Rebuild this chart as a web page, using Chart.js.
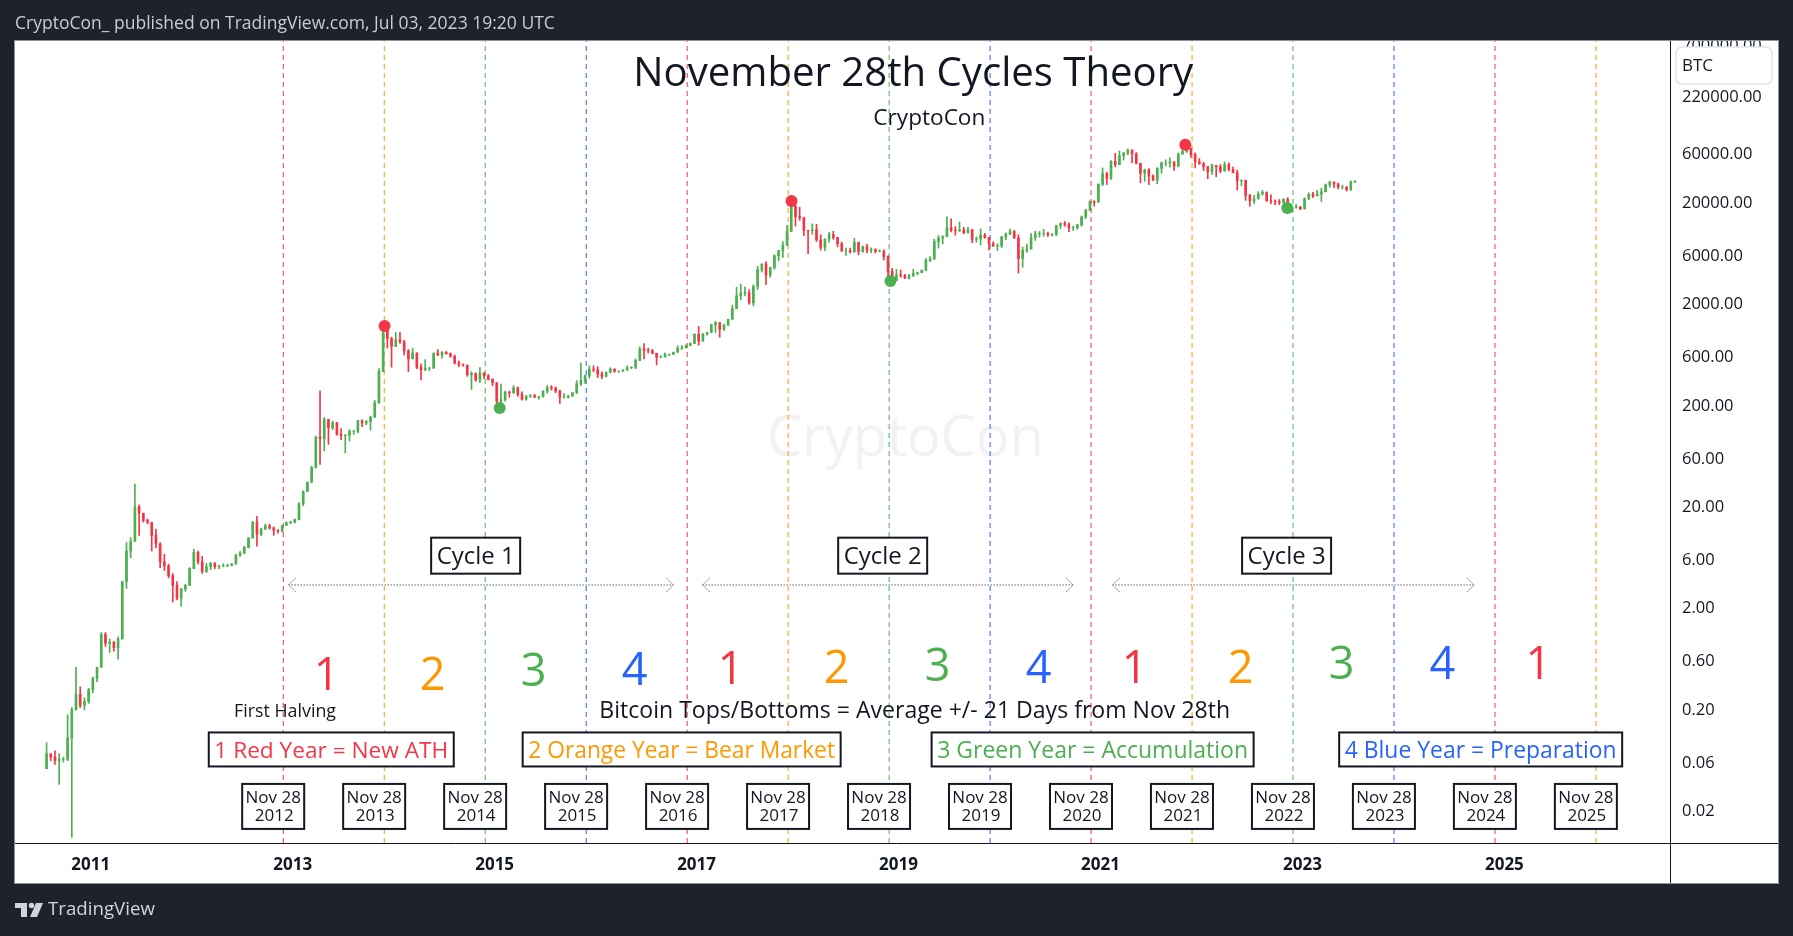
<!DOCTYPE html>
<html>
<head>
<meta charset="utf-8">
<title>November 28th Cycles Theory</title>
<script src="https://cdn.jsdelivr.net/npm/chart.js@4.4.0/dist/chart.umd.min.js"></script>
<style>
  html, body { margin: 0; padding: 0; background: #1e222d; overflow: hidden; }
  #wrap { width: 1793px; height: 936px; }
</style>
</head>
<body>
<div id="wrap"><canvas id="btcChart"></canvas></div>
<script>
// BTC half-month candles, 16 Jul 2010 .. 3 Jul 2023 (open = previous close)
const firstOpen = 0.05;
const closes = [
  0.07, 0.065, 0.06, 0.062, 0.062, 0.10, 0.19, 0.27, 0.21, 0.23, 0.30,
  0.39, 0.50, 1.05, 0.86, 0.88, 0.78, 0.95, 3.5, 7.0, 8.7, 19, 16.5, 14, 13.4, 10, 8.2, 5.5, 5.0, 4.0, 3.2, 2.4, 2.95, 3.2, 4.7,
  6.8, 5.5, 4.4, 4.9, 5.3, 4.9, 4.95, 5.0, 5.05, 5.2, 6.4, 6.7, 7.6, 9.4, 13.5, 10.2, 11.5, 12.4, 11.8, 11.2, 11.0, 12.5, 13.3, 13.5,
  14.3, 20.4, 27.1, 33.4, 46.9, 93, 90, 139, 115, 129, 99, 96, 97, 106, 106, 135, 128, 132, 147, 203, 415, 1130, 870, 730,
  850, 810, 660, 550, 630, 455, 430, 445, 445, 625, 600, 640, 620, 585, 500, 480, 475, 385, 395, 340, 400, 375, 345, 320,
  210, 218, 258, 255, 285, 245, 220, 235, 238, 230, 233, 263, 288, 283, 264, 230, 230, 236, 255, 313, 335, 375, 435, 430,
  390, 370, 405, 435, 415, 415, 425, 450, 455, 530, 690, 670, 665, 625, 570, 575, 610, 610, 640, 700, 710, 745, 780, 960,
  820, 965, 1000, 1190, 1250, 1075, 1180, 1350, 1720, 2300, 2440, 2480, 1960, 2850, 4180, 4740, 3700, 4360, 5700, 6450, 7300, 9900, 17600, 13900,
  13600, 10200, 10100, 10300, 8200, 6900, 8350, 9250, 8680, 7500, 6400, 6400, 6250, 7750, 6300, 7000, 6500, 6600, 6300, 6320, 5600, 4000, 3250, 3700,
  3650, 3450, 3600, 3830, 3900, 4100, 5150, 5300, 7900, 8550, 8800, 10800, 10200, 10100, 10300, 9600, 10350, 8300, 8350, 9150, 8650, 7550, 7100, 7200,
  8800, 9350, 9900, 8550, 5350, 6450, 6650, 8650, 9400, 9450, 9450, 9150, 9250, 11350, 11900, 11650, 10800, 10800, 11500, 13800, 16000, 19700, 19300, 29000,
  36800, 33100, 48700, 45200, 55600, 58800, 63100, 57700, 46700, 37300, 40200, 35000, 31800, 41500, 47000, 47100, 48100, 43800, 57300, 61300, 65500, 57000, 48300, 46200,
  43100, 38500, 44500, 43200, 39300, 45500, 40500, 37700, 31300, 31800, 22500, 19900, 20800, 23300, 24100, 20000, 19700, 19400, 19100, 20500, 16900, 17200, 17400, 16550,
  20900, 23100, 22200, 23150, 24400, 28500, 30500, 29250, 27200, 27200, 25600, 30500, 31100
];
const highs = [
  0.09, 0.07, 0.075, 0.07, 0.065, 0.17, 0.20, 0.50, 0.32, 0.25, 0.31,
  0.40, 0.50, 1.10, 1.10, 0.95, 0.90, 1.00, 3.5, 8.5, 9.5, 32, 20, 16.5, 14.5, 13.5, 11.5, 8.5, 6.5, 5.2, 4.2, 3.5, 3.0, 3.3, 4.8,
  7.3, 7.0, 6.2, 5.3, 5.4, 5.4, 5.1, 5.25, 5.2, 5.3, 6.5, 6.9, 7.8, 9.5, 13.7, 15.4, 11.8, 12.9, 12.9, 12.1, 11.4, 12.6, 13.6, 13.8,
  14.5, 21, 27.5, 33.5, 48, 95, 266, 145, 140, 134, 130, 113, 99, 110, 109, 136, 138, 136, 150, 214, 440, 1160, 1165, 900,
  1000, 1000, 840, 680, 700, 630, 490, 540, 455, 630, 680, 650, 650, 630, 600, 525, 490, 480, 410, 400, 450, 400, 385, 350,
  320, 310, 265, 265, 300, 290, 260, 240, 245, 246, 235, 268, 300, 300, 290, 270, 250, 240, 255, 335, 500, 380, 470, 470,
  460, 410, 410, 450, 440, 420, 430, 470, 460, 550, 720, 780, 700, 680, 625, 590, 630, 615, 640, 740, 745, 755, 790, 975,
  1150, 975, 1010, 1210, 1290, 1260, 1210, 1350, 1850, 2790, 3000, 2800, 2650, 2950, 4500, 4750, 4980, 4400, 5850, 6470, 7900, 11400, 17900, 19700,
  17200, 13600, 10200, 11800, 11700, 9200, 8400, 9800, 9950, 8700, 7800, 6800, 6800, 8500, 7800, 7150, 7400, 6850, 6700, 6550, 6550, 5700, 4300, 4200,
  4150, 3750, 3750, 4200, 3950, 4150, 5400, 5600, 8300, 9050, 9000, 13850, 13200, 11100, 12300, 10900, 10900, 10400, 8800, 10500, 9500, 8700, 7850, 7500,
  8900, 9600, 10500, 10200, 9200, 6950, 7450, 9450, 10000, 9900, 10400, 9800, 9450, 11450, 12100, 12450, 12050, 11200, 11700, 14100, 16400, 19850, 19900, 29300,
  42000, 38000, 49700, 58400, 61800, 60000, 64900, 63500, 59600, 46700, 40900, 41300, 36000, 42300, 48100, 50500, 52900, 48500, 59000, 67000, 69000, 66000, 59100, 52000,
  47900, 43500, 45800, 44500, 45400, 48200, 47300, 42900, 40000, 31900, 31800, 23000, 22500, 24500, 25200, 24400, 22800, 20300, 20500, 21000, 21400, 17200, 18400, 17400,
  21300, 23900, 24200, 25200, 26500, 29200, 31000, 30500, 29800, 28400, 27500, 31400, 31400
];
const lows = [
  0.05, 0.06, 0.055, 0.035, 0.058, 0.06, 0.0105, 0.19, 0.20, 0.19, 0.22,
  0.28, 0.36, 0.50, 0.80, 0.70, 0.72, 0.60, 0.95, 3.0, 6.0, 8.7, 10, 13.5, 13, 7, 7.5, 4.8, 4.5, 3.8, 2.2, 2.3, 2.0, 2.8, 3.2,
  4.7, 5.2, 4.2, 4.3, 4.6, 4.7, 4.7, 4.9, 4.9, 5.0, 5.2, 6.2, 6.6, 7.5, 9.4, 7.8, 9.9, 11.4, 11.5, 10.0, 10.5, 10.8, 12.5, 13.0,
  13.2, 14.2, 19.5, 27, 33, 46, 50, 68, 79, 110, 97, 88, 65, 85, 99, 103, 118, 123, 109, 145, 200, 410, 700, 455,
  730, 780, 600, 410, 550, 440, 340, 420, 420, 445, 590, 560, 610, 570, 490, 460, 465, 370, 275, 330, 320, 350, 340, 300,
  165, 200, 210, 230, 250, 235, 215, 215, 230, 229, 220, 230, 252, 270, 255, 200, 225, 225, 235, 250, 300, 315, 355, 410,
  360, 350, 365, 400, 405, 405, 413, 425, 440, 440, 530, 550, 630, 615, 480, 565, 570, 590, 605, 635, 680, 700, 740, 780,
  750, 820, 940, 1000, 1000, 900, 1050, 1180, 1350, 1720, 2100, 2300, 1900, 1830, 2650, 3950, 2970, 3500, 4200, 5100, 5500, 7200, 9900, 11200,
  12800, 9000, 6000, 9300, 7900, 6500, 6400, 7800, 8300, 7000, 6300, 5750, 6050, 6200, 5850, 6200, 6100, 6100, 6100, 6250, 5200, 3500, 3150, 3250,
  3500, 3400, 3350, 3600, 3700, 3900, 4100, 5000, 5300, 6800, 7500, 8800, 9800, 9100, 9900, 9400, 9600, 7700, 7800, 7300, 8500, 6500, 7100, 6430,
  6850, 8250, 9250, 8500, 3850, 4400, 6150, 6750, 8100, 8700, 8900, 8850, 8950, 9050, 10600, 11150, 9900, 10150, 10400, 11200, 13250, 15900, 17600, 19300,
  28000, 28800, 32300, 43000, 45000, 50300, 56800, 47000, 46000, 30000, 31000, 28800, 31600, 29300, 37300, 43900, 42800, 39600, 43000, 57800, 59600, 53300, 42000, 45500,
  39600, 32900, 36200, 34300, 37600, 39000, 39200, 37600, 25400, 28000, 20100, 17600, 18800, 20700, 22600, 19600, 18500, 18200, 18200, 18700, 15600, 15500, 16800, 16300,
  16500, 20400, 21400, 22800, 19600, 24400, 27200, 26900, 26000, 26000, 24800, 25200, 30200
];

// Nov 28th of each year and its cycle colour
const cycleYears = [2012, 2013, 2014, 2015, 2016, 2017, 2018, 2019, 2020, 2021, 2022, 2023, 2024, 2025];
const cycleColors = ["#f23645", "#ff9800", "#4caf50", "#2962ff"];
const yearNumbers = ["1", "2", "3", "4", "1", "2", "3", "4", "1", "2", "3", "4", "1"];

// marked tops and bottoms (decimal year, price)
const topDates = [2013.91, 2017.94, 2021.84];
const topPrices = [1160, 19800, 71000];
const bottomDates = [2015.05, 2018.92, 2022.85];
const bottomPrices = [180, 3220, 16900];

const cycleNames = ["Cycle 1", "Cycle 2", "Cycle 3"];
const cycleStart = [2012.96, 2017.06, 2021.12];
const cycleEnd = [2016.77, 2020.73, 2024.70];
const yearMeanings = ["1 Red Year = New ATH", "2 Orange Year = Bear Market", "3 Green Year = Accumulation", "4 Blue Year = Preparation"];

const yTicks = [0.02, 0.06, 0.2, 0.6, 2, 6, 20, 60, 200, 600, 2000, 6000, 20000, 60000, 220000, 700000];
const xTicks = [2011, 2013, 2015, 2017, 2019, 2021, 2023, 2025];

const Y_MIN = 0.00924, Y_MAX = 750000;
const FONT = '"Open Sans", "Noto Sans", sans-serif';
const INK = "#131722";

const periodTime = closes.map((c, i) => 2010 + (6.75 + i * 0.5) / 12);
const opens = closes.map((c, i) => (i === 0 ? firstOpen : closes[i - 1]));
const candleColor = closes.map((c, i) => (c >= opens[i] ? "#4caf50" : "#f23645"));
const nov28 = y => y + 331 / 365;

const datasets = [];
cycleYears.forEach((y, i) => {
  datasets.push({
    type: "line",
    data: [{ x: nov28(y), y: Y_MIN }, { x: nov28(y), y: Y_MAX }],
    borderColor: cycleColors[i % 4],
    borderWidth: 1,
    borderDash: [5, 4],
    pointRadius: 0,
    order: 5
  });
});
datasets.push({
  type: "bar",
  data: periodTime.map((t, i) => ({ x: t, y: [lows[i], highs[i]] })),
  backgroundColor: candleColor,
  barThickness: 1,
  grouped: false,
  order: 4
});
datasets.push({
  type: "bar",
  data: periodTime.map((t, i) => ({ x: t, y: [opens[i], closes[i]] })),
  backgroundColor: candleColor,
  barThickness: 2,
  grouped: false,
  order: 3
});
cycleNames.forEach((n, i) => {
  datasets.push({
    type: "line",
    data: [{ x: cycleStart[i], y: 3.24 }, { x: cycleEnd[i], y: 3.24 }],
    borderColor: INK,
    borderWidth: 1,
    borderDash: [1, 2],
    pointRadius: 0,
    order: 2
  });
});
datasets.push({
  type: "line",
  showLine: false,
  data: topDates.map((t, i) => ({ x: t, y: topPrices[i] })),
  pointRadius: 6,
  pointBackgroundColor: "#f23645",
  pointBorderWidth: 0,
  order: 1
});
datasets.push({
  type: "line",
  showLine: false,
  data: bottomDates.map((t, i) => ({ x: t, y: bottomPrices[i] })),
  pointRadius: 6,
  pointBackgroundColor: "#4caf50",
  pointBorderWidth: 0,
  order: 1
});

function fitSize(ctx, text, width, weight) {
  ctx.font = `${weight} 100px ${FONT}`;
  return (100 * width) / ctx.measureText(text).width;
}
// Open Sans sits a little high with "middle", so nudge every label down
function put(ctx, text, x, y, size, color, weight, align) {
  ctx.font = `${weight || "normal"} ${size}px ${FONT}`;
  ctx.fillStyle = color;
  ctx.textAlign = align || "center";
  ctx.textBaseline = "middle";
  ctx.fillText(text, x, y + 2);
}
function box(ctx, cx, cy, w, h, lw) {
  ctx.fillStyle = "#ffffff";
  ctx.fillRect(cx - w / 2, cy - h / 2, w, h);
  ctx.lineWidth = lw;
  ctx.strokeStyle = INK;
  ctx.strokeRect(cx - w / 2, cy - h / 2, w, h);
}

const frame = { left: 15, top: 41, right: 1778, bottom: 883 };

const tvLayout = {
  id: "tvLayout",
  beforeDraw(chart) {
    const { ctx, width, height } = chart;
    ctx.save();
    ctx.fillStyle = "#1e222d";
    ctx.fillRect(0, 0, width, height);
    ctx.fillStyle = "#ffffff";
    ctx.fillRect(frame.left, frame.top, frame.right - frame.left, frame.bottom - frame.top);
    ctx.restore();
  },
  beforeDatasetsDraw(chart) {
    const { ctx, chartArea } = chart;
    const X = t => chart.scales.x.getPixelForValue(t);
    const Y = v => chart.scales.y.getPixelForValue(v);
    ctx.save();
    ctx.beginPath();
    ctx.rect(chartArea.left, chartArea.top, chartArea.width, chartArea.height);
    ctx.clip();
    put(ctx, "CryptoCon", X(2019.066), Y(91), fitSize(ctx, "CryptoCon", 277, "normal"), "#f2f2f3");
    ctx.restore();
  },
  afterDatasetsDraw(chart) {
    const { ctx } = chart;
    const X = t => chart.scales.x.getPixelForValue(t);
    const Y = v => chart.scales.y.getPixelForValue(v);
    ctx.save();

    // title block
    const title = "November 28th Cycles Theory";
    put(ctx, title, X(2019.146), Y(370000), fitSize(ctx, title, 560, "normal"), INK);
    put(ctx, "CryptoCon", X(2019.305), Y(134000), fitSize(ctx, "CryptoCon", 112, "normal"), INK);

    // cycle arrow heads
    ctx.strokeStyle = "#787b86";
    ctx.lineWidth = 1;
    ctx.setLineDash([2, 1]);
    cycleNames.forEach((n, i) => {
      const y = Y(3.24);
      const a = X(cycleStart[i]), b = X(cycleEnd[i]);
      ctx.beginPath();
      ctx.moveTo(a + 7, y - 7); ctx.lineTo(a, y); ctx.lineTo(a + 7, y + 7);
      ctx.moveTo(b - 7, y - 7); ctx.lineTo(b, y); ctx.lineTo(b - 7, y + 7);
      ctx.stroke();
    });
    ctx.setLineDash([]);

    // cycle name boxes
    const cycleCenters = [2014.812, 2018.843, 2022.843];
    cycleNames.forEach((n, i) => {
      const cx = X(cycleCenters[i]), cy = Y(6.3);
      box(ctx, cx, cy, 89, 36, 2);
      put(ctx, n, cx, cy - 1, fitSize(ctx, n, 78, "normal"), INK);
    });

    // year numbers
    const numY = [0.42, 0.42, 0.46, 0.47, 0.48, 0.49, 0.51, 0.49, 0.49, 0.49, 0.54, 0.54, 0.54];
    yearNumbers.forEach((d, i) => {
      const off = d === "1" ? 0.43 : 0.48;
      put(ctx, d, X(nov28(cycleYears[i]) + off), Y(numY[i]), 45, cycleColors[i % 4]);
    });

    // notes
    put(ctx, "First Halving", X(2012.924), Y(0.19), fitSize(ctx, "First Halving", 102, "normal"), INK);
    const note = "Bitcoin Tops/Bottoms = Average +/- 21 Days from Nov 28th";
    put(ctx, note, X(2019.16), Y(0.19), fitSize(ctx, note, 631, "normal"), INK);

    // legend of year colours
    const legendCenters = [2013.382, 2016.852, 2020.922, 2024.765];
    const legendWidths = [234, 307, 311, 272];
    yearMeanings.forEach((txt, i) => {
      const cx = X(legendCenters[i]), cy = Y(0.0773);
      const size = fitSize(ctx, txt, legendWidths[i], "normal");
      box(ctx, cx, cy, legendWidths[i] + 11, 34, 2);
      put(ctx, txt, cx, cy, size, cycleColors[i]);
    });

    // Nov 28 date boxes
    cycleYears.forEach(y => {
      const cx = X(nov28(y) - 0.1), cy = Y(0.0212);
      box(ctx, cx, cy, 62, 45, 2);
      put(ctx, "Nov 28", cx, cy - 10, 17, INK);
      put(ctx, String(y), cx + 1, cy + 8, 17, INK);
    });
    ctx.restore();
  },
  afterDraw(chart) {
    const { ctx, chartArea, width } = chart;
    ctx.save();
    // top band clipping the axis label
    ctx.fillStyle = "#1e222d";
    ctx.fillRect(0, 0, width, frame.top);

    // axis lines
    ctx.strokeStyle = INK;
    ctx.lineWidth = 1;
    ctx.beginPath();
    ctx.moveTo(frame.left, chartArea.bottom + 0.5);
    ctx.lineTo(frame.right, chartArea.bottom + 0.5);
    ctx.moveTo(chartArea.right + 0.5, frame.top);
    ctx.lineTo(chartArea.right + 0.5, frame.bottom);
    ctx.stroke();

    // frame border
    ctx.strokeStyle = "#8f929b";
    ctx.strokeRect(frame.left - 0.5, frame.top - 0.5, frame.right - frame.left + 1, frame.bottom - frame.top + 1);

    // symbol tag
    ctx.fillStyle = "#ffffff";
    ctx.strokeStyle = "#e0e3eb";
    ctx.lineWidth = 1.5;
    ctx.beginPath();
    ctx.roundRect(1676, 47, 96, 37, 6);
    ctx.fill();
    ctx.stroke();
    put(ctx, "BTC", 1682, 64, 17, INK, "normal", "left");

    // header
    const head = "CryptoCon_ published on TradingView.com, Jul 03, 2023 19:20 UTC";
    put(ctx, head, 15, 22, fitSize(ctx, head, 540, "normal"), "#c9ccd4", "normal", "left");

    // footer logo
    ctx.fillStyle = "#d1d4dc";
    ctx.fillRect(15, 903, 12, 5);
    ctx.fillRect(21, 903, 6, 14);
    ctx.beginPath();
    ctx.arc(31.5, 905.5, 2.7, 0, Math.PI * 2);
    ctx.fill();
    ctx.beginPath();
    ctx.moveTo(36, 903); ctx.lineTo(43, 903); ctx.lineTo(37, 917); ctx.lineTo(30, 917);
    ctx.closePath();
    ctx.fill();
    put(ctx, "TradingView", 48, 908, fitSize(ctx, "TradingView", 107, "normal"), "#d1d4dc", "normal", "left");
    ctx.restore();
  }
};

new Chart(document.getElementById("btcChart"), {
  type: "bar",
  data: { datasets: datasets },
  plugins: [tvLayout],
  options: {
    responsive: true,
    maintainAspectRatio: false,
    animation: false,
    events: [],
    layout: { padding: { left: 15, top: 41, right: 15, bottom: 53 } },
    plugins: { legend: { display: false }, tooltip: { enabled: false } },
    scales: {
      x: {
        type: "linear",
        min: 2010.25,
        max: 2026.64,
        offset: false,
        grid: { display: false, drawTicks: false },
        border: { display: false },
        afterBuildTicks: axis => { axis.ticks = xTicks.map(v => ({ value: v })); },
        afterFit: axis => { axis.height = 40; },
        ticks: {
          color: INK,
          font: { family: FONT, size: 17, weight: "bold" },
          padding: 12,
          maxRotation: 0,
          autoSkip: false,
          callback: v => String(v)
        }
      },
      y: {
        type: "logarithmic",
        position: "right",
        min: Y_MIN,
        max: Y_MAX,
        grid: { display: false, drawTicks: false },
        border: { display: false },
        afterBuildTicks: axis => { axis.ticks = yTicks.map(v => ({ value: v })); },
        afterFit: axis => { axis.width = 108; },
        ticks: {
          color: INK,
          font: { family: FONT, size: 16.5 },
          padding: 12,
          labelOffset: 2.5,
          autoSkip: false,
          callback: v => Number(v).toFixed(2)
        }
      }
    }
  }
});
</script>
</body>
</html>
